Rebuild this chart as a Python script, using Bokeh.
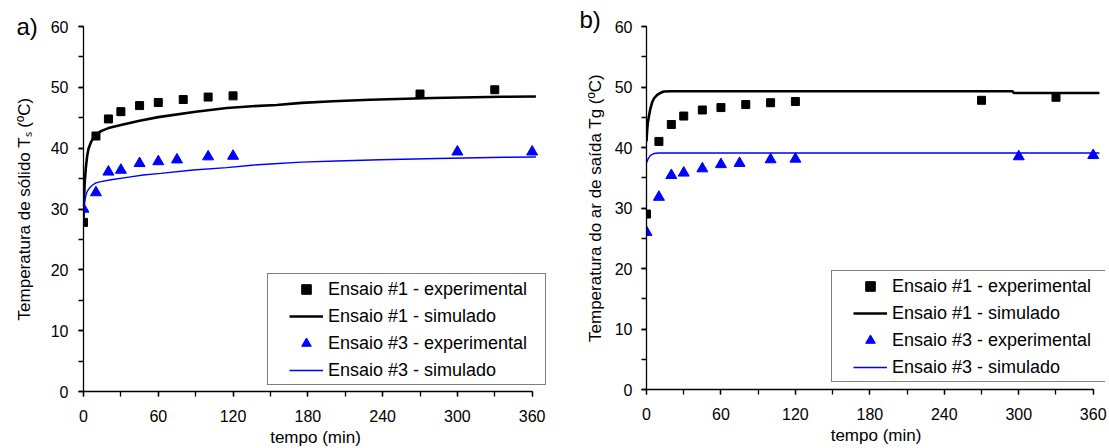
from bokeh.plotting import figure
from bokeh.layouts import row
from bokeh.models import Range1d, SingleIntervalTicker, Legend, LegendItem
from bokeh.embed import file_html
from bokeh.resources import INLINE

# ---------------- data ----------------
# panel a) solid temperature Ts
a_t_exp1 = [0, 10, 20, 30, 45, 60, 80, 100, 120, 270, 330]
a_T_exp1 = [27.8, 42.0, 44.8, 46.0, 47.0, 47.5, 48.0, 48.4, 48.6, 48.9, 49.6]
a_t_exp3 = [0, 10, 20, 30, 45, 60, 75, 100, 120, 300, 360]
a_T_exp3 = [30.0, 32.7, 36.1, 36.4, 37.5, 37.8, 38.1, 38.6, 38.7, 39.4, 39.4]
a_t_sim1 = [0, 0.5, 1, 2, 3, 4, 6, 8, 10, 14, 20, 30, 45, 60, 90, 115, 135, 155, 175, 200, 230, 280, 336, 363]
a_T_sim1 = [28.5, 32.0, 34.5, 37.0, 38.8, 39.9, 41.0, 41.7, 42.2, 42.8, 43.3, 43.8, 44.5, 45.1, 46.0, 46.6,
            46.9, 47.1, 47.45, 47.7, 47.95, 48.25, 48.45, 48.5]
a_t_sim3 = [0, 1, 2, 3, 5, 7, 10, 14, 22, 35, 48, 62, 88, 115, 135, 153, 175, 203, 238, 284, 338, 363]
a_T_sim3 = [30.0, 31.3, 32.3, 32.9, 33.5, 33.9, 34.3, 34.5, 34.8, 35.2, 35.6, 35.85, 36.4, 36.8, 37.2,
            37.45, 37.7, 37.9, 38.1, 38.3, 38.5, 38.55]

# panel b) outlet air temperature Tg
b_t_exp1 = [0, 10, 20, 30, 45, 60, 80, 100, 120, 270, 330]
b_T_exp1 = [29.0, 41.0, 43.8, 45.2, 46.2, 46.6, 47.1, 47.4, 47.6, 47.8, 48.3]
b_t_exp3 = [0, 10, 20, 30, 45, 60, 75, 100, 120, 300, 360]
b_T_exp3 = [26.0, 31.8, 35.4, 35.8, 36.5, 37.2, 37.4, 38.0, 38.1, 38.5, 38.7]
b_t_sim1 = [0, 0.5, 1, 2, 3, 4.6, 6, 8.6, 11, 14, 20, 295, 296, 365]
b_T_sim1 = [41.0, 42.8, 44.0, 45.2, 46.3, 47.5, 48.1, 48.7, 49.0, 49.25, 49.3, 49.3, 49.0, 49.0]
b_t_sim3 = [0, 1.5, 3.2, 6, 10, 365]
b_T_sim3 = [37.5, 38.2, 38.7, 39.0, 39.1, 39.1]

legend_labels = ["Ensaio #1 - experimental", "Ensaio #1 - simulado",
                 "Ensaio #3 - experimental", "Ensaio #3 - simulado"]
x_label = "tempo (min)"
y_label_a = "Temperatura de sólido Tₛ (ºC)"
y_label_b = "Temperatura do ar de saída Tg (ºC)"

FONT = "Liberation Sans"
BLUE = "#0000FF"


def panel(letter, ylabel, t1, y1, t3, y3, ts1, ys1, ts3, ys3, g):
    p = figure(frame_width=g["fw"], frame_height=g["fh"],
               x_range=Range1d(0, g["xend"]), y_range=Range1d(0, 60),
               min_border_left=g["bl"], min_border_right=g["br"],
               min_border_top=g["bt"], min_border_bottom=g["bb"],
               output_backend="svg", toolbar_location=None)
    p.outline_line_color = None
    p.xgrid.visible = False
    p.ygrid.visible = False
    p.background_fill_color = "white"
    p.border_fill_color = "white"

    # panel letter as the plot title, pulled over to the top-left corner
    p.title.text = letter
    p.title.text_font = FONT
    p.title.text_font_size = "24px"
    p.title.text_font_style = "normal"
    p.title.text_color = "black"
    p.title.align = "left"
    p.title.offset = g["toff"]
    p.title.standoff = g["tstand"]

    p.xaxis.ticker = SingleIntervalTicker(interval=60, num_minor_ticks=2)
    p.yaxis.ticker = SingleIntervalTicker(interval=10, num_minor_ticks=2)
    p.xaxis.bounds = (0, 360)
    p.yaxis.bounds = (0, 60)
    for ax in (p.xaxis[0], p.yaxis[0]):
        ax.axis_line_color = "black"
        ax.axis_line_width = 1.3
        ax.major_tick_line_color = "black"
        ax.minor_tick_line_color = "black"
        ax.major_tick_line_width = 1.3
        ax.minor_tick_line_width = 1.3
        ax.major_tick_in = 0
        ax.major_tick_out = 5
        ax.minor_tick_in = 0
        ax.minor_tick_out = 5
        ax.major_label_text_font = FONT
        ax.major_label_text_font_size = "16px"
        ax.major_label_text_color = "black"
        ax.axis_label_text_font = FONT
        ax.axis_label_text_font_size = "17px"
        ax.axis_label_text_font_style = "normal"
        ax.axis_label_text_color = "black"
    p.xaxis.axis_label = x_label
    p.xaxis.major_label_standoff = 13
    p.xaxis.axis_label_standoff = 3
    p.yaxis.axis_label = ylabel
    p.yaxis.major_label_standoff = g["ys"]
    p.yaxis.axis_label_standoff = g["yas"]

    r_sim1 = p.line(ts1, ys1, line_color="black", line_width=2.6)
    r_sim3 = p.line(ts3, ys3, line_color=BLUE, line_width=1.4)
    r_exp1 = p.scatter(t1, y1, marker="square", size=8, fill_color="black", line_color="black")
    r_exp3 = p.scatter(t3, y3, marker="triangle", size=11, fill_color=BLUE, line_color=BLUE)

    items = [LegendItem(label=legend_labels[0], renderers=[r_exp1]),
             LegendItem(label=legend_labels[1], renderers=[r_sim1]),
             LegendItem(label=legend_labels[2], renderers=[r_exp3]),
             LegendItem(label=legend_labels[3], renderers=[r_sim3])]
    leg = Legend(items=items, margin=0, glyph_width=34, glyph_height=24,
                 label_height=24, label_standoff=5, spacing=3,
                 label_text_font=FONT, label_text_font_size="18px",
                 label_text_color="black",
                 border_line_color="black", border_line_width=1.3,
                 background_fill_color="white", background_fill_alpha=1.0)
    lx, ly = g["leg"]
    try:
        leg.padding = dict(left=21, right=18, top=3, bottom=2)
        leg.location = (lx, ly)
    except Exception:
        leg.padding = 3
        leg.location = (lx + 18, ly)
    p.add_layout(leg)
    return p


ga = dict(fw=464, fh=365, xend=372.3, bl=83, br=21, bt=23, bb=58,
          ys=10, yas=14, leg=(184, 6), toff=-67, tstand=-27)
gb = dict(fw=459, fh=363, xend=369.9, bl=78, br=2, bt=26, bb=58,
          ys=9, yas=7, leg=(185, 7), toff=-67, tstand=-12)

pa = panel("a)", y_label_a, a_t_exp1, a_T_exp1, a_t_exp3, a_T_exp3,
           a_t_sim1, a_T_sim1, a_t_sim3, a_T_sim3, ga)
pb = panel("b)", y_label_b, b_t_exp1, b_T_exp1, b_t_exp3, b_T_exp3,
           b_t_sim1, b_T_sim1, b_t_sim3, b_T_sim3, gb)

layout = row(pa, pb, spacing=0)
open("out.html", "w").write(file_html(layout, INLINE))
